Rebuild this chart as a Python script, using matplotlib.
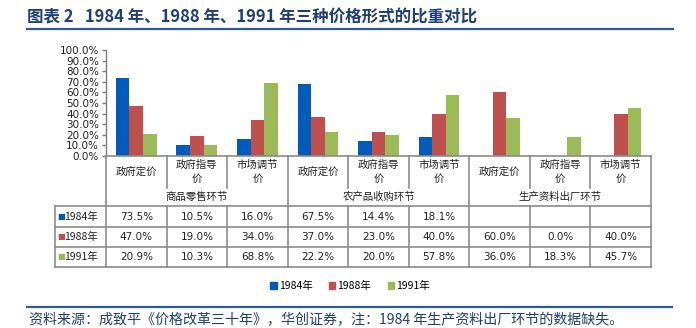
import matplotlib
matplotlib.use("Agg")
import matplotlib.pyplot as plt
import numpy as np
from matplotlib.lines import Line2D
from matplotlib.transforms import blended_transform_factory

plt.rcParams['font.family'] = ['Noto Sans CJK SC', 'DejaVu Sans']

# data
groups = ["商品零售环节", "农产品收购环节", "生产资料出厂环节"]
subcats = ["政府定价", "政府指导\n价", "市场调节\n价"]
years = ["1984年", "1988年", "1991年"]
v1984 = [73.5, 10.5, 16.0, 67.5, 14.4, 18.1, None, None, None]
v1988 = [47.0, 19.0, 34.0, 37.0, 23.0, 40.0, 60.0, 0.0, 40.0]
v1991 = [20.9, 10.3, 68.8, 22.2, 20.0, 57.8, 36.0, 18.3, 45.7]
colors = ["#005BBB", "#C0504D", "#9BBB59"]

series = [v1984, v1988, v1991]
ncat = len(v1988)

W, H = 696, 328
fig = plt.figure(figsize=(W / 100, H / 100), dpi=100)

def fx(px):
    return px / W

def fy(py):
    return 1 - py / H

ax_l, ax_r, ax_t, ax_b = 106, 651, 50, 156
ax = fig.add_axes([fx(ax_l), fy(ax_b), fx(ax_r - ax_l), (ax_b - ax_t) / H])

bw = 0.225
x = np.arange(ncat) + 0.5
for i, (vals, c) in enumerate(zip(series, colors)):
    h = [np.nan if v is None else v for v in vals]
    ax.bar(x + (i - 1) * bw, h, bw, color=c, zorder=2)

ax.set_xlim(0, ncat)
ax.set_ylim(0, 100)
ax.set_yticks(np.arange(0, 101, 10))
ax.set_yticklabels(["%.1f%%" % t for t in np.arange(0, 101, 10)], fontsize=7.5,
                   family=['DejaVu Sans'], color="#222222")
ax.set_xticks([])
for s in ["top", "right", "bottom"]:
    ax.spines[s].set_visible(False)
ax.spines["left"].set_color("#7f7f7f")
ax.spines["left"].set_linewidth(1.0)
ax.tick_params(axis="y", length=3, width=1.0, color="#7f7f7f", pad=2)

# table below the axes, px coordinates in y, data coords in x
trans = blended_transform_factory(ax.transData, fig.transFigure)
lc = "#8c8c8c"
lw = 1.2

def hline(x0, x1, py, xt=trans):
    fig.add_artist(Line2D([x0, x1], [fy(py), fy(py)], transform=xt, color=lc, lw=lw))

def vline(xd, p0, p1):
    fig.add_artist(Line2D([xd, xd], [fy(p0), fy(p1)], transform=trans, color=lc, lw=lw))

legend_left = (55 - ax_l) / ((ax_r - ax_l) / ncat)

hline(0, ncat, ax_b)
for py in [206, 227, 247, 267]:
    hline(legend_left, ncat, py)
vline(legend_left, 206, 267)
for k in range(ncat + 1):
    if k % 3 == 0:
        vline(k, ax_b, 267)
    else:
        vline(k, ax_b, 188)
        vline(k, 206, 267)

for k in range(ncat):
    fig.text(k + 0.5, fy(172), subcats[k % 3], transform=trans, ha="center", va="center",
             fontsize=7.5, linespacing=1.5, color="#222222")
for g, name in enumerate(groups):
    fig.text(g * 3 + 1.5, fy(197), name, transform=trans, ha="center", va="center",
             fontsize=7.5, color="#222222")

row_y = [216.5, 237, 257]
for r, (vals, c, yr) in enumerate(zip(series, colors, years)):
    fig.text(fx(57), fy(row_y[r]), "■", color=c, fontsize=6, va="center", ha="left",
             family=['DejaVu Sans'])
    fig.text(fx(64), fy(row_y[r]), yr, color="#222222", fontsize=7.5, va="center", ha="left")
    for k, v in enumerate(vals):
        if v is None:
            continue
        fig.text(k + 0.5, fy(row_y[r]), "%.1f%%" % v, transform=trans, ha="center",
                 va="center", fontsize=7.5, family=['DejaVu Sans'], color="#222222")

# legend
handles = [plt.Rectangle((0, 0), 1, 1, color=c) for c in colors]
fig.legend(handles, years, loc="center", bbox_to_anchor=(fx(350), fy(286)), ncol=3,
           frameon=False, fontsize=7.5, handlelength=0.6, handleheight=0.6,
           handletextpad=0.2, columnspacing=1.6)

# title and footer
navy = "#1F3F7A"
fig.text(fx(27), fy(17), "图表 2   1984 年、1988 年、1991 年三种价格形式的比重对比",
         fontsize=11.9, fontweight="bold", color=navy, va="center", ha="left")
fig.add_artist(Line2D([fx(27), fx(673)], [fy(29), fy(29)], color="#2E5A9C", lw=1.6))
fig.add_artist(Line2D([fx(27), fx(672)], [fy(307), fy(307)], color="#2E5A9C", lw=1.6))
fig.text(fx(29), fy(320), "资料来源：成致平《价格改革三十年》，华创证券，注：1984 年生产资料出厂环节的数据缺失。",
         fontsize=10.1, color=navy, va="center", ha="left", style="italic")

fig.savefig("out.png", dpi=100)
